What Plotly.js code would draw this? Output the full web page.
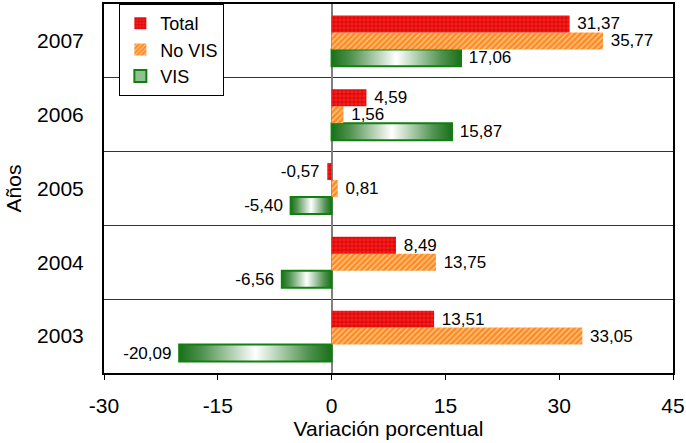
<!DOCTYPE html>
<html>
<head>
<meta charset="utf-8">
<script src="https://cdn.plot.ly/plotly-3.0.1.min.js"></script>
<style>
html,body{margin:0;padding:0;background:#fff;}
#chart{width:686px;height:443px;}
</style>
</head>
<body>
<div id="chart"></div>
<script>
var years = ['2003', '2004', '2005', '2006', '2007'];
var totalVals = [13.51, 8.49, -0.57, 4.59, 31.37];
var noVisVals = [33.05, 13.75, 0.81, 1.56, 35.77];
var visVals = [-20.09, -6.56, -5.40, 15.87, 17.06];
var xTicks = [-30, -15, 0, 15, 30, 45];

var FONT = 'Liberation Sans';

var common = {
  type: 'bar',
  orientation: 'h',
  y: years,
  texttemplate: ' %{x:.2f} ',
  textposition: 'outside',
  constraintext: 'none',
  cliponaxis: false,
  textfont: {family: FONT, size: 17, color: '#000'},
  hoverinfo: 'x+y'
};

var traces = [
  Object.assign({}, common, {
    name: 'VIS', x: visVals,
    marker: {color: '#8fc08f', line: {color: '#108010', width: 2}}
  }),
  Object.assign({}, common, {
    name: 'No VIS', x: noVisVals,
    marker: {color: '#ff9a3c', line: {width: 0},
      pattern: {shape: '/', bgcolor: '#ff8a20', fgcolor: '#ffc890', size: 4, solidity: 0.35}}
  }),
  Object.assign({}, common, {
    name: 'Total', x: totalVals,
    marker: {color: '#ff2020', line: {width: 0},
      pattern: {shape: '+', bgcolor: '#ff1a1a', fgcolor: '#a80000', size: 4, solidity: 0.25}}
  })
];

var layout = {
  width: 686, height: 443,
  margin: {l: 104, r: 13, t: 4, b: 70},
  paper_bgcolor: '#fff', plot_bgcolor: '#fff',
  font: {family: FONT, size: 21, color: '#000'},
  separators: ',.',
  barmode: 'group',
  bargap: 0.31,
  bargroupgap: 0,
  showlegend: true,
  legend: {
    x: 0.027, y: 1, xanchor: 'left', yanchor: 'top',
    bgcolor: '#fff', bordercolor: '#000', borderwidth: 1,
    traceorder: 'reversed',
    itemwidth: 30,
    font: {family: FONT, size: 18, color: '#000'}
  },
  xaxis: {
    range: [-30, 45],
    tickvals: xTicks,
    ticktext: xTicks.map(String),
    ticks: 'outside', ticklen: 5, tickcolor: '#000', tickwidth: 1,
    ticklabelstandoff: 8,
    showgrid: false,
    zeroline: true, zerolinecolor: '#808080', zerolinewidth: 2,
    showline: true, mirror: true, linecolor: '#000', linewidth: 2,
    tickfont: {family: FONT, size: 21},
    title: {text: 'Variación porcentual', font: {family: FONT, size: 21}, standoff: 0},
    fixedrange: true
  },
  yaxis: {
    type: 'category',
    categoryorder: 'array', categoryarray: years,
    tickson: 'boundaries',
    ticks: '',
    showgrid: true, gridcolor: '#333', gridwidth: 1,
    showline: true, mirror: true, linecolor: '#000', linewidth: 2,
    tickfont: {family: FONT, size: 21},
    ticklabelstandoff: 14,
    title: {text: 'Años', font: {family: FONT, size: 21}, standoff: 10},
    fixedrange: true
  }
};

function applyGradient(gd) {
  var svg = gd.querySelector('svg.main-svg');
  if (!svg) return;
  var ns = 'http://www.w3.org/2000/svg';
  if (!document.getElementById('visgrad')) {
    var defs = svg.querySelector('defs') || svg.insertBefore(document.createElementNS(ns, 'defs'), svg.firstChild);
    var g = document.createElementNS(ns, 'linearGradient');
    g.setAttribute('id', 'visgrad');
    g.setAttribute('x1', '0'); g.setAttribute('x2', '1');
    g.setAttribute('y1', '0'); g.setAttribute('y2', '0');
    [['0', '#1a701a'], ['0.15', '#4f924f'], ['0.5', '#ffffff'], ['0.85', '#4f924f'], ['1', '#1a701a']].forEach(function (s) {
      var st = document.createElementNS(ns, 'stop');
      st.setAttribute('offset', s[0]);
      st.setAttribute('stop-color', s[1]);
      g.appendChild(st);
    });
    defs.appendChild(g);
  }
  var barTraces = gd.querySelectorAll('.barlayer .trace.bars');
  if (barTraces.length) {
    barTraces[0].querySelectorAll('.point path').forEach(function (p) {
      p.style.fill = 'url(#visgrad)';
    });
  }
}

var gd = document.getElementById('chart');
Plotly.newPlot(gd, traces, layout, {displayModeBar: false, staticPlot: true}).then(function () {
  applyGradient(gd);
  gd.on('plotly_afterplot', function () { applyGradient(gd); });
});
</script>
</body>
</html>
